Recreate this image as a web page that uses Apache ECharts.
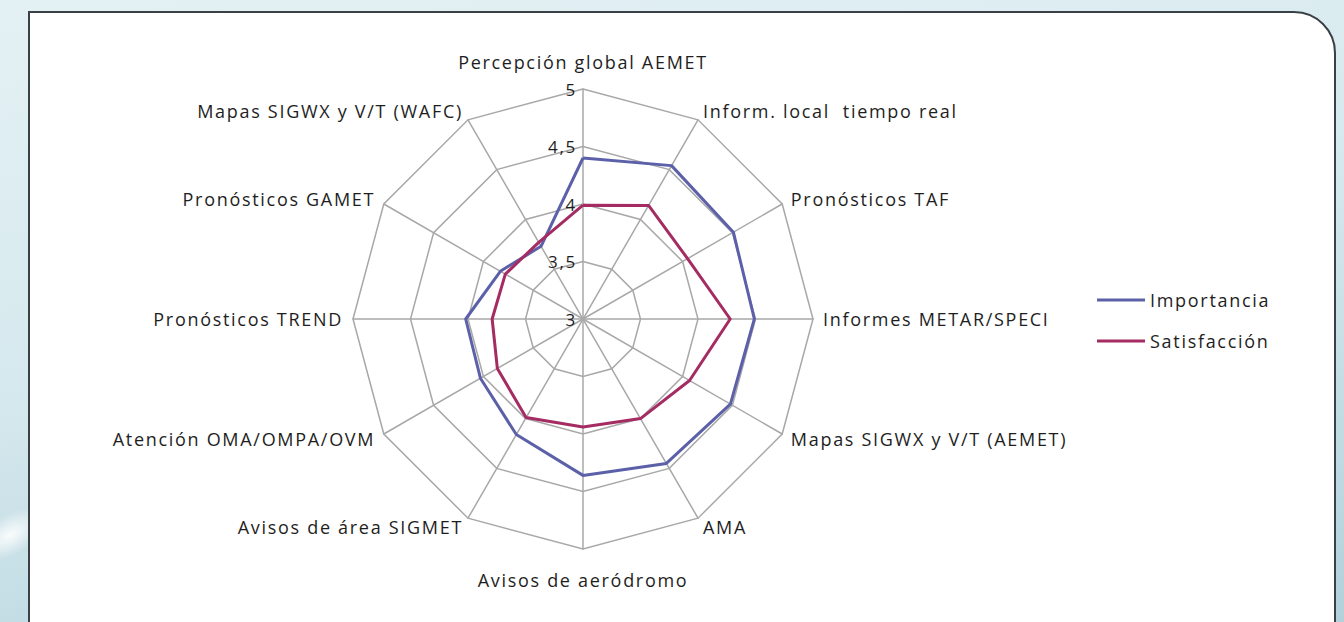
<!DOCTYPE html>
<html>
<head>
<meta charset="utf-8">
<script src="https://cdn.jsdelivr.net/npm/echarts@6/dist/echarts.min.js"></script>
<style>
  html, body { margin: 0; padding: 0; width: 1344px; height: 622px; overflow: hidden; }
  body { background: linear-gradient(170deg, #e4f1f4 0%, #d6e9ee 45%, #b2d1db 100%); position: relative; }
  #swoosh { position: absolute; left: -30px; top: 515px; width: 80px; height: 40px;
            background: radial-gradient(ellipse at center, rgba(255,255,255,0.9) 0%, rgba(255,255,255,0) 70%);
            transform: rotate(-30deg); }
  #frame { position: absolute; left: 28px; top: 11px; width: 1308px; height: 700px; background: #fff;
           border: 2px solid #3a4146; border-top-right-radius: 42px; box-sizing: border-box; }
  #chart { position: absolute; left: 0; top: 0; width: 1344px; height: 622px; }
  #chart text { letter-spacing: 1.7px; }
</style>
</head>
<body>
<div id="swoosh"></div>
<div id="frame"></div>
<div id="chart"></div>
<script>
// Categories in clockwise order starting from the top
const categories = [
  'Percepción global AEMET',
  'Inform. local  tiempo real',
  'Pronósticos TAF',
  'Informes METAR/SPECI',
  'Mapas SIGWX y V/T (AEMET)',
  'AMA',
  'Avisos de aeródromo',
  'Avisos de área SIGMET',
  'Atención OMA/OMPA/OVM',
  'Pronósticos TREND',
  'Pronósticos GAMET',
  'Mapas SIGWX y V/T (WAFC)'
];
const seriesNames = ['Importancia', 'Satisfacción'];
const importancia = [4.40, 4.54, 4.51, 4.49, 4.48, 4.45, 4.36, 4.16, 4.03, 4.02, 3.83, 3.73];
const satisfaccion = [3.99, 4.14, 4.05, 4.28, 4.07, 4.00, 3.94, 3.99, 3.86, 3.79, 3.78, 3.77];
const axisMin = 3, axisMax = 5, splitCount = 4;

// ECharts places radar indicators counter-clockwise; reorder to get clockwise
function toCCW(arr) { return [arr[0]].concat(arr.slice(1).reverse()); }

const ccwCats = toCCW(categories);
const indicators = ccwCats.map((name, i) => {
  const ind = { name: name, min: axisMin, max: axisMax, axisLabel: { show: i === 0 } };
  if (i === 0) ind.nameGap = 18;
  if (i === 6) ind.nameGap = 22;
  return ind;
});

const chart = echarts.init(document.getElementById('chart'), null, { renderer: 'svg' });
const textColor = '#1e1e1e';
const gridColor = '#a8a8a8';
chart.setOption({
  animation: false,
  backgroundColor: 'transparent',
  textStyle: { fontFamily: 'Open Sans' },
  legend: {
    orient: 'vertical',
    left: 1092, top: 286,
    itemWidth: 48, itemHeight: 3, itemGap: 23,
    icon: 'rect',
    textStyle: { color: textColor, fontSize: 18, fontFamily: 'Open Sans' },
    data: seriesNames
  },
  radar: {
    center: [583, 319],
    radius: 230,
    shape: 'polygon',
    splitNumber: splitCount,
    startAngle: 90,
    indicator: indicators,
    nameGap: 10,
    axisName: { color: textColor, fontSize: 18, fontFamily: 'Open Sans' },
    axisLine: { lineStyle: { color: gridColor, width: 1.5 } },
    splitLine: { lineStyle: { color: gridColor, width: 1.5 } },
    splitArea: { show: false },
    axisTick: { show: false },
    axisLabel: {
      show: false, color: textColor, fontSize: 17, fontFamily: 'Open Sans',
      formatter: v => String(v).replace('.', ','), margin: 6
    }
  },
  series: [{
    type: 'radar',
    symbol: 'none',
    data: [
      { name: seriesNames[0], value: toCCW(importancia),
        lineStyle: { color: '#5c60a8', width: 3 }, itemStyle: { color: '#5c60a8' } },
      { name: seriesNames[1], value: toCCW(satisfaccion),
        lineStyle: { color: '#a42c62', width: 3 }, itemStyle: { color: '#a42c62' } }
    ]
  }]
});
</script>
</body>
</html>
